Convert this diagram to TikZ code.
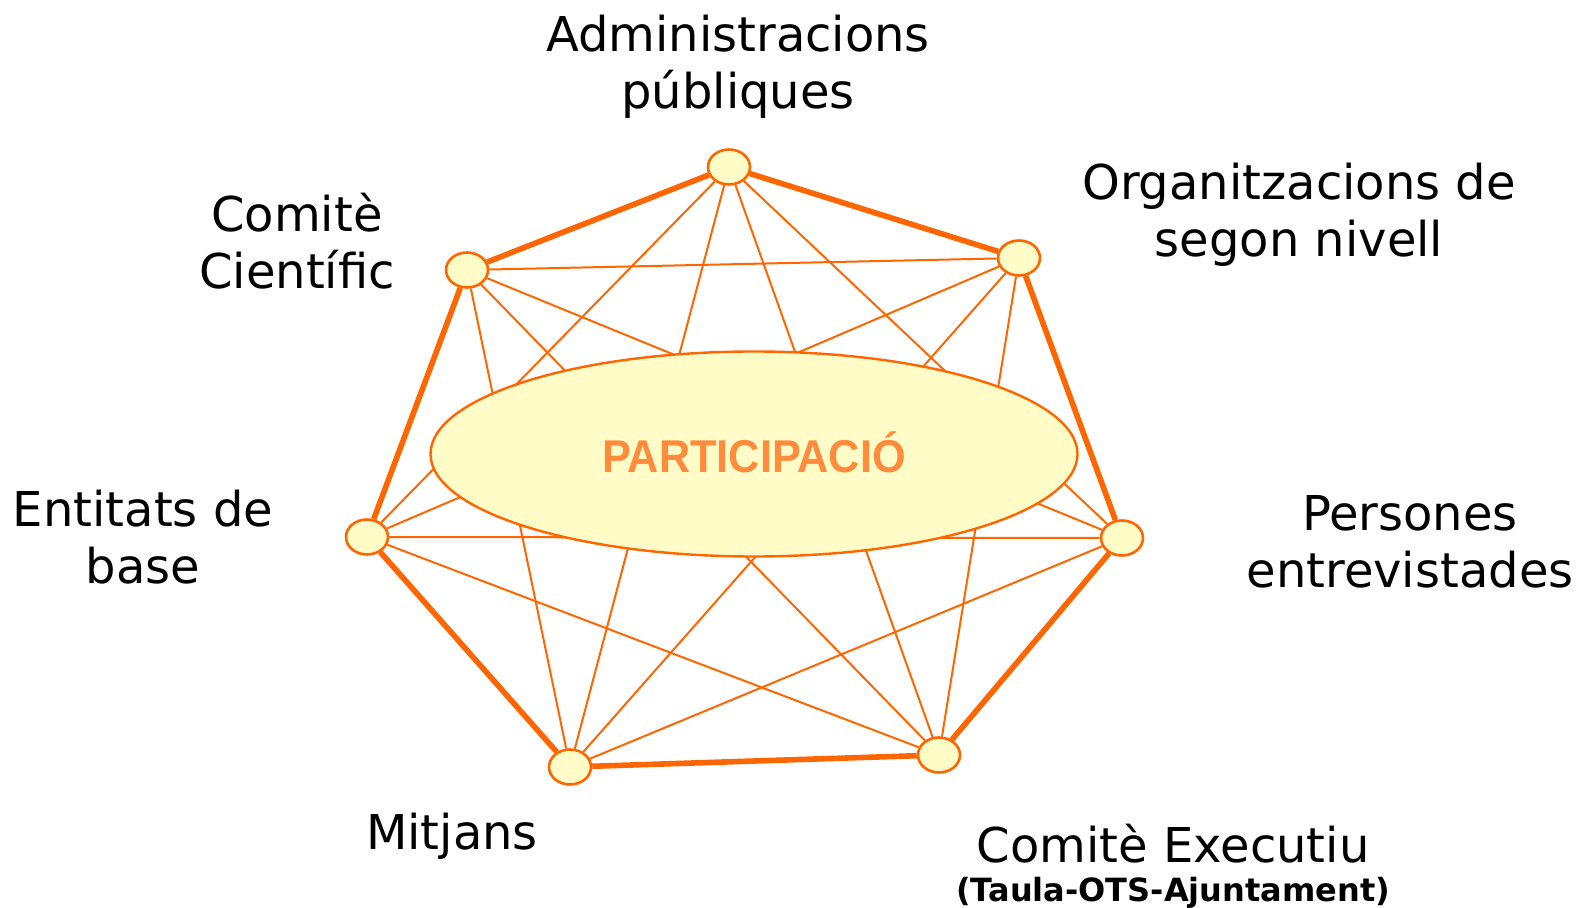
\documentclass[tikz,border=0pt]{standalone}
\usepackage{fontspec}
\setmainfont{DejaVu Sans}
\newfontfamily\partfont[FakeStretch=0.94]{Liberation Sans}
\usetikzlibrary{shapes.geometric}
\definecolor{taronja}{HTML}{FF6600}
\definecolor{groc}{HTML}{FFFCC8}
\definecolor{lletra}{HTML}{FF8C3C}
\pgfdeclarelayer{background}
\pgfsetlayers{background,main}

\begin{document}
\begin{tikzpicture}[x=0.5pt, y=-0.5pt,
    punt/.style={draw=taronja, fill=groc, ellipse, line width=1.3pt, minimum width=21pt, minimum height=17.5pt, inner sep=0pt},
    gruix/.style={draw=taronja, line width=2.8pt},
    prim/.style={draw=taronja, line width=1pt},
    etiqueta/.style={align=center, font=\fontsize{24}{28.5}\selectfont}]
            \useasboundingbox (0,0) rectangle (1579,908);

            \node[punt] (1) at (729,167) {};
            \node[punt] (2) at (1019,258) {};
            \node[punt] (3) at (1122,538) {};
            \node[punt] (4) at (939,755) {};
            \node[punt] (5) at (570,767) {};
            \node[punt] (6) at (367,537) {};
            \node[punt] (7) at (467,270) {};

            \node[draw=taronja, fill=groc, ellipse, line width=1.2pt, minimum width=323.5pt, minimum height=102.5pt, inner sep=0pt] (part) at (754,454) {};
            \node[text=lletra, font=\partfont\bfseries\fontsize{23}{26}\selectfont] (partlabel) at (754,452) {PARTICIPACIÓ};

            \begin{pgfonlayer}{background}
            \path[gruix]
            (1) edge (2)
            (2) edge (3)
            (3) edge (4)
            (4) edge (5)
            (5) edge (6)
            (6) edge (7)
            (7) edge (1);

            \path[prim]
            (1) edge (3)
            (1) edge (4)
            (1) edge (5)
            (1) edge (6)
            (2) edge (4)
            (2) edge (5)
            (2) edge (6)
            (2) edge (7)
            (3) edge (5)
            (3) edge (6)
            (3) edge (7)
            (4) edge (6)
            (4) edge (7)
            (5) edge (7);
            \end{pgfonlayer}

            \node[etiqueta] (admin) at (738,67) {Administracions\\públiques};
            \node[etiqueta] (organ) at (1299,215) {Organitzacions de\\segon nivell};
            \node[etiqueta] (cientific) at (297,241) {Comitè\\Científic};
            \node[etiqueta] (entitats) at (143,537) {Entitats de\\base};
            \node[etiqueta] (persones) at (1410,542) {Persones\\entrevistades};
            \node[etiqueta] (mitjans) at (452,836) {Mitjans};
            \node[etiqueta] (executiu) at (1173,844) {Comitè Executiu};
            \node[font=\bfseries\fontsize{16}{19}\selectfont] (taula) at (1173,893) {(Taula-OTS-Ajuntament)};
          \end{tikzpicture}
\end{document}
